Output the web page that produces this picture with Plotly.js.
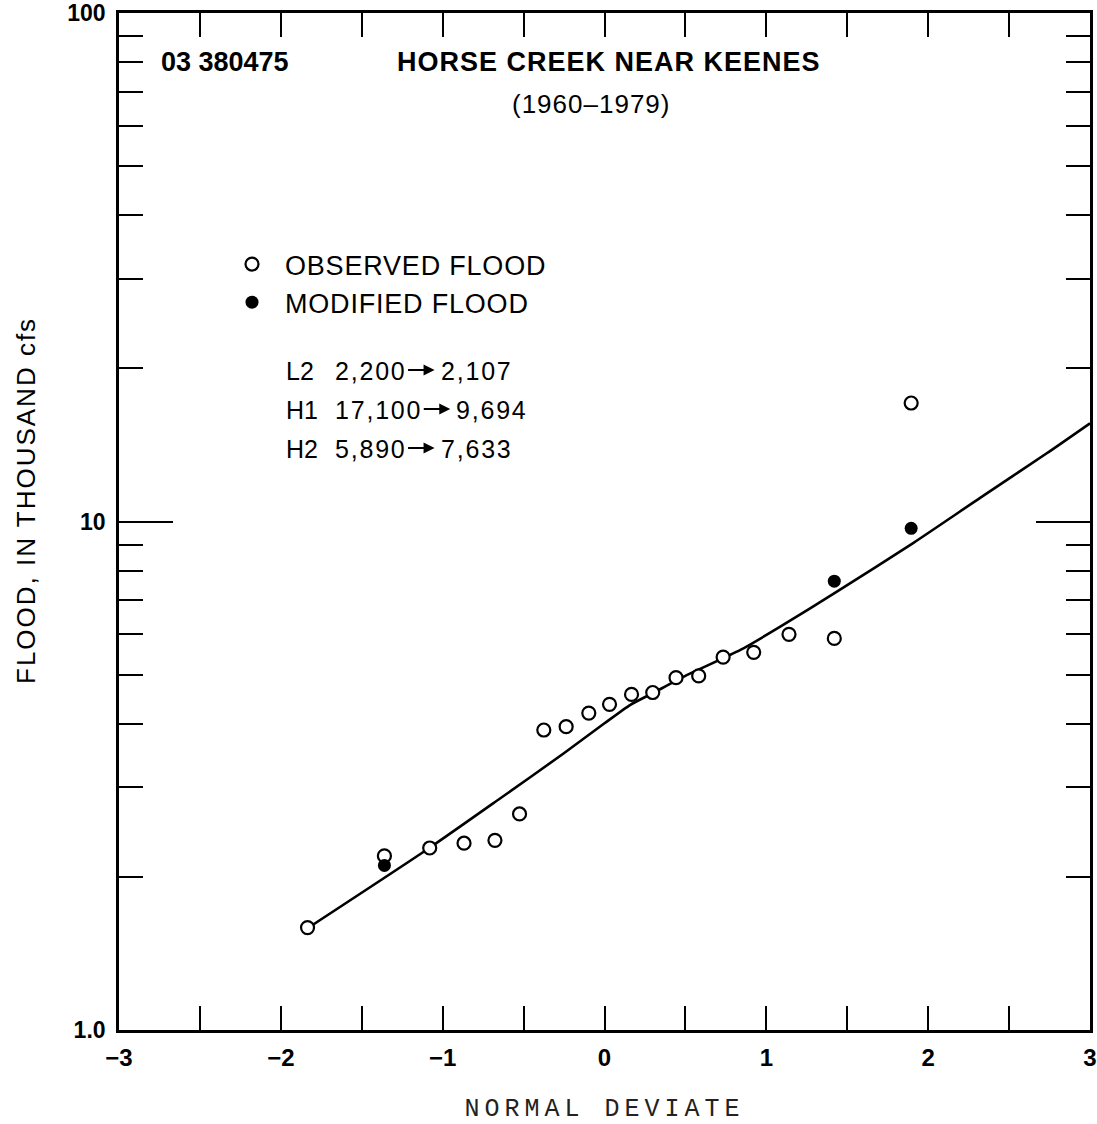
<!DOCTYPE html>
<html>
<head>
<meta charset="utf-8">
<script src="https://cdn.plot.ly/plotly-3.0.1.min.js"></script>
<style>
  html, body { margin: 0; padding: 0; background: #fff; }
  #chart { width: 1097px; height: 1124px; }
  .xtitle { letter-spacing: 5px; }
  .legendtext { letter-spacing: 0.8px; }
</style>
</head>
<body>
<div id="chart"></div>
<script>
// Annual floods, Horse Creek near Keenes (03 380475), 1960-1979,
// plotted against normal deviate on a log discharge scale.

// Floods with no modification (thousand cfs) and their plotting positions
const plainZ = [-1.835, -1.08, -0.868, -0.677, -0.525, -0.375, -0.237, -0.097,
                0.031, 0.167, 0.298, 0.442, 0.582, 0.733, 0.922, 1.14];
const plainQ = [1.59, 2.28, 2.33, 2.36, 2.66, 3.89, 3.95, 4.20,
                4.37, 4.57, 4.61, 4.93, 4.97, 5.41, 5.53, 6.00];

// Modified events (cfs): low outlier L2, high outliers H1, H2
const eventLabels = ['L2', 'H1', 'H2'];
const eventZ = [-1.36, 1.895, 1.42];
const eventObservedCfs = [2200, 17100, 5890];
const eventModifiedCfs = [2107, 9694, 7633];

// Fitted frequency curve (thousand cfs)
const curveZ = [-1.835, -1.085, -0.652, -0.251, 0.0, 0.16, 0.30, 0.50,
                0.84, 1.086, 1.436, 1.907, 2.321, 2.733, 3.0];
const curveQ = [1.585, 2.277, 2.843, 3.501, 4.01, 4.36, 4.60, 4.97,
                5.59, 6.21, 7.28, 9.07, 11.13, 13.62, 15.6];

// Axis tick labels
const xTickVals = [-3, -2, -1, 0, 1, 2, 3];
const xTickText = ['\u22123', '\u22122', '\u22121', '0', '1', '2', '3'];
const xMinorVals = [-2.5, -1.5, -0.5, 0.5, 1.5, 2.5];
const yTickVals = [1, 10, 100];
const yTickText = ['1.0', '10', '100'];
const yMinorVals = [2, 3, 4, 5, 6, 7, 8, 9, 20, 30, 40, 50, 60, 70, 80, 90];

const toThousand = v => v / 1000;
const fmt = v => v.toLocaleString('en-US');

const observedZ = plainZ.concat(eventZ);
const observedQ = plainQ.concat(eventObservedCfs.map(toThousand));
const modifiedQ = eventModifiedCfs.map(toThousand);

const SANS = 'Liberation Sans, Arial, Helvetica, sans-serif';
const INK = '#000';

const traces = [
  {
    x: curveZ, y: curveQ, type: 'scatter', mode: 'lines',
    line: { color: INK, width: 2.6, shape: 'spline', smoothing: 0.6 },
    showlegend: false, hoverinfo: 'skip'
  },
  {
    x: observedZ, y: observedQ, type: 'scatter', mode: 'markers',
    name: 'OBSERVED FLOOD', legendrank: 1,
    marker: { symbol: 'circle', size: 13, color: '#fff', line: { color: INK, width: 2.2 } }
  },
  {
    x: eventZ, y: modifiedQ, type: 'scatter', mode: 'markers',
    name: 'MODIFIED FLOOD', legendrank: 2,
    marker: { symbol: 'circle', size: 13, color: INK, line: { color: INK, width: 0 } }
  }
];

// Left edge of the plotting area is 119px, width 971px; bottom 1030px, height 1017px.
const px = v => (v - 119) / 971;
const py = v => (1030 - v) / 1017;

const annotations = [
  { text: '03 380475', x: px(159), y: py(62), xanchor: 'left', yanchor: 'middle',
    font: { family: SANS, size: 27, color: INK, weight: 'bold' } },
  { text: '<span style="letter-spacing:1px">HORSE CREEK NEAR KEENES</span>',
    x: px(609), y: py(62), xanchor: 'center', yanchor: 'middle',
    font: { family: SANS, size: 27, color: INK, weight: 'bold' } },
  { text: '<span style="letter-spacing:1px">(1960\u20131979)</span>',
    x: px(591), y: py(104), xanchor: 'center', yanchor: 'middle',
    font: { family: SANS, size: 26, color: INK } },
  { text: '<span style="letter-spacing:2px">FLOOD, IN THOUSAND cfs</span>',
    x: px(26), y: py(501), xanchor: 'center', yanchor: 'middle', textangle: -90,
    font: { family: SANS, size: 26, color: INK } }
];

// Outlier table: label, old value, arrow, new value.
const rowY = [371, 410, 449];
const VALUE_SIZE = 25, VALUE_SPACING = 1.8;
const measure = (() => {
  const ctx = document.createElement('canvas').getContext('2d');
  ctx.font = VALUE_SIZE + 'px "Liberation Sans", Arial, sans-serif';
  return s => ctx.measureText(s).width + VALUE_SPACING * s.length;
})();
const spaced = s => '<span style="letter-spacing:' + VALUE_SPACING + 'px">' + s + '</span>';

eventLabels.forEach((lab, i) => {
  const oldTxt = fmt(eventObservedCfs[i]);
  const newTxt = fmt(eventModifiedCfs[i]);
  const valueLeft = 333;
  const arrowStart = valueLeft + measure(oldTxt) + 2;
  const arrowEnd = arrowStart + 28;
  annotations.push({
    text: lab, x: px(284), y: py(rowY[i]), xanchor: 'left', yanchor: 'middle',
    font: { family: SANS, size: VALUE_SIZE, color: INK }
  });
  annotations.push({
    text: spaced(oldTxt), x: px(valueLeft), y: py(rowY[i]), xanchor: 'left', yanchor: 'middle',
    font: { family: SANS, size: VALUE_SIZE, color: INK }
  });
  annotations.push({
    text: '', x: px(arrowEnd), y: py(rowY[i] - 1), showarrow: true,
    ax: -(arrowEnd - arrowStart), ay: 0, arrowhead: 2, arrowsize: 1.1,
    arrowwidth: 2, arrowcolor: INK, standoff: 0, startstandoff: 0
  });
  annotations.push({
    text: spaced(newTxt), x: px(arrowEnd + 4), y: py(rowY[i]), xanchor: 'left', yanchor: 'middle',
    font: { family: SANS, size: VALUE_SIZE, color: INK }
  });
});
annotations.forEach(a => {
  a.xref = 'paper'; a.yref = 'paper';
  if (a.showarrow === undefined) a.showarrow = false;
});

const layout = {
  width: 1097, height: 1124,
  margin: { l: 119, r: 7, t: 13, b: 94 },
  paper_bgcolor: '#fff', plot_bgcolor: '#fff',
  font: { family: SANS, color: INK },
  showlegend: true,
  legend: {
    x: px(219), y: py(240), xanchor: 'left', yanchor: 'top',
    bgcolor: 'rgba(0,0,0,0)', borderwidth: 0, itemwidth: 56,
    font: { family: SANS, size: 27, color: INK }, itemclick: false, itemdoubleclick: false
  },
  xaxis: {
    range: [-3, 3], showgrid: false, zeroline: false,
    showline: true, linecolor: INK, linewidth: 2.8, mirror: 'ticks',
    ticks: 'inside', ticklen: 24, tickwidth: 2, tickcolor: INK,
    tickmode: 'array', tickvals: xTickVals, ticktext: xTickText,
    ticklabelstandoff: 4,
    tickfont: { family: SANS, size: 24, color: INK, weight: 'bold' },
    minor: { tickmode: 'array', tickvals: xMinorVals, ticks: 'inside', ticklen: 24,
             tickwidth: 2, tickcolor: INK, showgrid: false },
    title: { text: 'NORMAL DEVIATE', standoff: 34,
             font: { family: 'Liberation Mono, Courier New, monospace', size: 25, color: '#222' } }
  },
  yaxis: {
    type: 'log', range: [0, 2], showgrid: false, zeroline: false,
    showline: true, linecolor: INK, linewidth: 2.8, mirror: 'ticks',
    ticks: 'inside', ticklen: 54, tickwidth: 2, tickcolor: INK,
    tickmode: 'array', tickvals: yTickVals, ticktext: yTickText,
    ticklabelstandoff: 6,
    tickfont: { family: SANS, size: 23, color: INK, weight: 'bold' },
    minor: { tickmode: 'array', tickvals: yMinorVals, ticks: 'inside', ticklen: 24,
             tickwidth: 2, tickcolor: INK, showgrid: false }
  },
  annotations: annotations
};

Plotly.newPlot('chart', traces, layout, { displayModeBar: false, staticPlot: true });
</script>
</body>
</html>
